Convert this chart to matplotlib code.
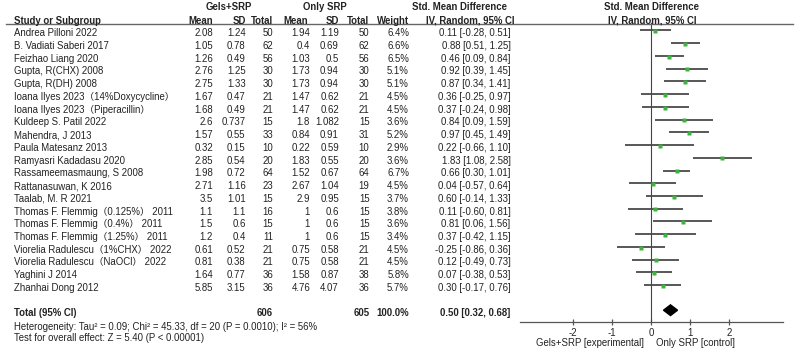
import matplotlib
matplotlib.use("Agg")
import matplotlib.pyplot as plt
from matplotlib.lines import Line2D
from matplotlib.patches import Polygon
from matplotlib.transforms import blended_transform_factory

studies = [
    "Andrea Pilloni 2022", "B. Vadiati Saberi 2017", "Feizhao Liang 2020",
    "Gupta, R(CHX) 2008", "Gupta, R(DH) 2008",
    "Ioana Ilyes 2023（14%Doxycycline）", "Ioana Ilyes 2023（Piperacillin）",
    "Kuldeep S. Patil 2022", "Mahendra, J 2013", "Paula Matesanz 2013",
    "Ramyasri Kadadasu 2020", "Rassameemasmaung, S 2008", "Rattanasuwan, K 2016",
    "Taalab, M. R 2021", "Thomas F. Flemmig（0.125%） 2011",
    "Thomas F. Flemmig（0.4%） 2011", "Thomas F. Flemmig（1.25%） 2011",
    "Viorelia Radulescu（1%CHX） 2022", "Viorelia Radulescu（NaOCl） 2022",
    "Yaghini J 2014", "Zhanhai Dong 2012",
]
gel_mean = [2.08, 1.05, 1.26, 2.76, 2.75, 1.67, 1.68, 2.6, 1.57, 0.32, 2.85,
            1.98, 2.71, 3.5, 1.1, 1.5, 1.2, 0.61, 0.81, 1.64, 5.85]
gel_sd = [1.24, 0.78, 0.49, 1.25, 1.33, 0.47, 0.49, 0.737, 0.55, 0.15, 0.54,
          0.72, 1.16, 1.01, 1.1, 0.6, 0.4, 0.52, 0.38, 0.77, 3.15]
gel_n = [50, 62, 56, 30, 30, 21, 21, 15, 33, 10, 20, 64, 23, 15, 16, 15, 11,
         21, 21, 36, 36]
srp_mean = [1.94, 0.4, 1.03, 1.73, 1.73, 1.47, 1.47, 1.8, 0.84, 0.22, 1.83,
            1.52, 2.67, 2.9, 1, 1, 1, 0.75, 0.75, 1.58, 4.76]
srp_sd = [1.19, 0.69, 0.5, 0.94, 0.94, 0.62, 0.62, 1.082, 0.91, 0.59, 0.55,
          0.67, 1.04, 0.95, 0.6, 0.6, 0.6, 0.58, 0.58, 0.87, 4.07]
srp_n = [50, 62, 56, 30, 30, 21, 21, 15, 31, 10, 20, 64, 19, 15, 15, 15, 15,
         21, 21, 38, 36]
weight = [6.4, 6.6, 6.5, 5.1, 5.1, 4.5, 4.5, 3.6, 5.2, 2.9, 3.6, 6.7, 4.5,
          3.7, 3.8, 3.6, 3.4, 4.5, 4.5, 5.8, 5.7]
smd = [0.11, 0.88, 0.46, 0.92, 0.87, 0.36, 0.37, 0.84, 0.97, 0.22, 1.83, 0.66,
       0.04, 0.60, 0.11, 0.81, 0.37, -0.25, 0.12, 0.07, 0.30]
ci_lo = [-0.28, 0.51, 0.09, 0.39, 0.34, -0.25, -0.24, 0.09, 0.45, -0.66, 1.08,
         0.30, -0.57, -0.14, -0.60, 0.06, -0.42, -0.86, -0.49, -0.38, -0.17]
ci_hi = [0.51, 1.25, 0.84, 1.45, 1.41, 0.97, 0.98, 1.59, 1.49, 1.10, 2.58,
         1.01, 0.64, 1.33, 0.81, 1.56, 1.15, 0.36, 0.73, 0.53, 0.76]

total_gel, total_srp = 606, 605
pooled, pooled_lo, pooled_hi = 0.50, 0.32, 0.68
het_text = "Heterogeneity: Tau² = 0.09; Chi² = 45.33, df = 20 (P = 0.0010); I² = 56%"
effect_text = "Test for overall effect: Z = 5.40 (P < 0.00001)"
xticks = [-2, -1, 0, 1, 2]

W, H = 799, 352
FS = 6.9
TXT = "#222222"
plt.rcParams["font.family"] = ["Liberation Sans", "Noto Sans CJK SC", "DejaVu Sans"]

fig = plt.figure(figsize=(W / 100, H / 100), dpi=100)
# forest panel: x from 520px to 783px, y from header line to axis line
ax = fig.add_axes([520 / W, 1 - 322.3 / H, 263 / W, (322.3 - 23.3) / H])
ax.set_xlim(-3.36, 3.385)
ax.set_ylim(22.70, -0.785)
for s in ["top", "left", "right"]:
    ax.spines[s].set_visible(False)
ax.spines["bottom"].set_color("#555555")
ax.spines["bottom"].set_linewidth(0.9)
ax.set_yticks([])
ax.set_xticks(xticks)
ax.set_xticklabels([str(t) for t in xticks], fontsize=FS, color=TXT)
ax.tick_params(axis="x", direction="inout", length=4, width=0.9, color="#555555", pad=2)
ax.axvline(0, color="#444444", lw=0.8)

off = -0.22
rows = list(range(len(studies)))
for i in rows:
    ax.plot([ci_lo[i], ci_hi[i]], [i + off, i + off], color="#4a4a4a", lw=1.3,
            solid_capstyle="butt")
    ax.plot(smd[i], i + off + 0.05, marker="s", ms=2.4, color="#3cb43c", mec="none")

ty = len(studies) + 0.95
dh = 0.42
ax.add_patch(Polygon([(pooled_lo, ty - 0.2), (pooled, ty - 0.2 - dh),
                      (pooled_hi, ty - 0.2), (pooled, ty - 0.2 + dh)],
                     closed=True, color="black"))

ax.text(-0.18, 24.3, "Gels+SRP [experimental]", ha="right", va="center",
        fontsize=FS, color=TXT)
ax.text(0.13, 24.3, "Only SRP [control]", ha="left", va="center",
        fontsize=FS, color=TXT)

tr = blended_transform_factory(fig.transFigure, ax.transData)


def put(xpx, y, s, ha="right", bold=False):
    fig.text(xpx / W, y, s, transform=tr, ha=ha, va="center", fontsize=FS,
             color=TXT, fontweight="bold" if bold else "normal")


# header
put(229, -2.07, "Gels+SRP", ha="center", bold=True)
put(324.5, -2.07, "Only SRP", ha="center", bold=True)
put(460, -2.07, "Std. Mean Difference", ha="center", bold=True)
put(651.5, -2.07, "Std. Mean Difference", ha="center", bold=True)
put(14, -1.0, "Study or Subgroup", ha="left", bold=True)
for xpx, lab in [(213, "Mean"), (245.6, "SD"), (273, "Total"), (308, "Mean"),
                 (339, "SD"), (369.5, "Total"), (409, "Weight")]:
    put(xpx, -1.0, lab, bold=True)
put(470, -1.0, "IV, Random, 95% CI", ha="center", bold=True)
put(652.5, -1.0, "IV, Random, 95% CI", ha="center", bold=True)
fig.add_artist(Line2D([6 / W, 793 / W], [1 - 23.6 / H, 1 - 23.6 / H],
                      color="#666666", lw=1.0, transform=fig.transFigure))

for i in rows:
    put(14, i, studies[i], ha="left")
    put(213, i, f"{gel_mean[i]:g}")
    put(245.6, i, f"{gel_sd[i]:g}")
    put(273, i, f"{gel_n[i]}")
    put(310, i, f"{srp_mean[i]:g}")
    put(339, i, f"{srp_sd[i]:g}")
    put(369.5, i, f"{srp_n[i]}")
    put(409, i, f"{weight[i]:.1f}%")
    put(510.7, i, f"{smd[i]:.2f} [{ci_lo[i]:.2f}, {ci_hi[i]:.2f}]")

put(14, ty, "Total (95% CI)", ha="left", bold=True)
put(273, ty, f"{total_gel}", bold=True)
put(369.5, ty, f"{total_srp}", bold=True)
put(409, ty, "100.0%", bold=True)
put(510.7, ty, f"{pooled:.2f} [{pooled_lo:.2f}, {pooled_hi:.2f}]", bold=True)
put(14, ty + 1.1, het_text, ha="left")
put(14, ty + 1.98, effect_text, ha="left")

fig.savefig("out.png", dpi=100, facecolor="white")
